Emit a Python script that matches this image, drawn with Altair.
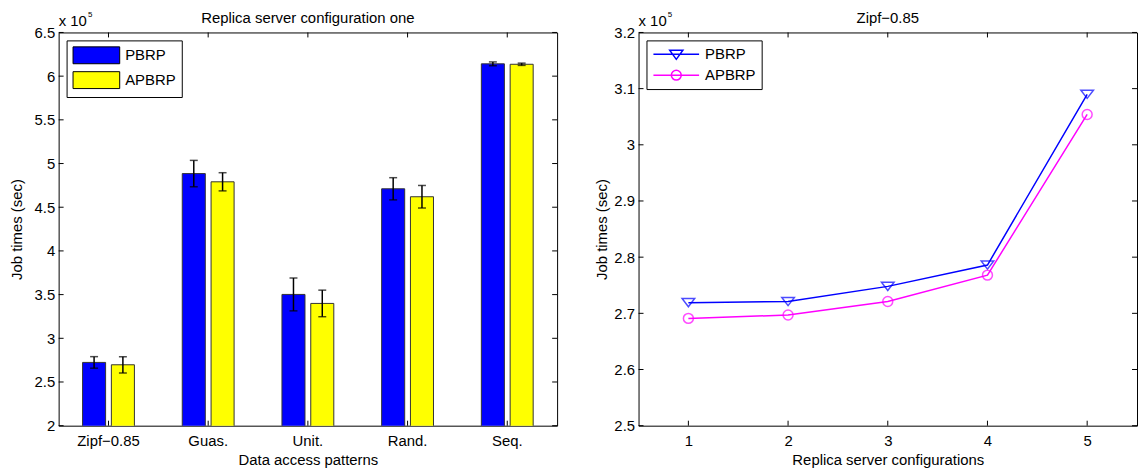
import altair as alt
import pandas as pd

FONT = "Liberation Sans"

# ---------------- data ----------------
patterns = ["Zipf\u22120.85", "Guas.", "Unit.", "Rand.", "Seq."]
series = ["PBRP", "APBRP"]
pbrp_bar = [2.724, 4.885, 3.502, 4.711, 6.141]
apbrp_bar = [2.697, 4.791, 3.399, 4.620, 6.136]
pbrp_err = [0.066, 0.151, 0.188, 0.127, 0.022]
apbrp_err = [0.093, 0.104, 0.152, 0.129, 0.013]

configs = [1, 2, 3, 4, 5]
pbrp_line = [2.719, 2.721, 2.748, 2.786, 3.090]
apbrp_line = [2.691, 2.697, 2.721, 2.768, 3.054]

left_yticks = [2, 2.5, 3, 3.5, 4, 4.5, 5, 5.5, 6, 6.5]
right_yticks = [2.5, 2.6, 2.7, 2.8, 2.9, 3.0, 3.1, 3.2]

left_title = "Replica server configuration one"
right_title = "Zipf\u22120.85"

W, H = 502, 396
TL = 5  # inward tick length


def text_layer(txt, x, y, size=15, align="left"):
    return alt.Chart(pd.DataFrame({"t": [txt]})).mark_text(
        align=align, baseline="alphabetic", font=FONT, fontSize=size, color="black"
    ).encode(text="t:N", x=alt.value(x), y=alt.value(y))


def decorations(title):
    return [
        text_layer(title, W / 2, -10, 15, "center"),
        text_layer("x 10", 0, -7, 15),
        text_layer("5", 29.5, -15.5, 8),
    ]


# ---------------- left chart ----------------
rows = []
for i, p in enumerate(patterns):
    rows.append({"pattern": p, "series": "PBRP", "value": pbrp_bar[i],
                 "lo": pbrp_bar[i] - pbrp_err[i], "hi": pbrp_bar[i] + pbrp_err[i]})
    rows.append({"pattern": p, "series": "APBRP", "value": apbrp_bar[i],
                 "lo": apbrp_bar[i] - apbrp_err[i], "hi": apbrp_bar[i] + apbrp_err[i]})
bars_df = pd.DataFrame(rows)

ly_scale = alt.Scale(domain=[2, 6.5], nice=False, zero=False)
x_band = alt.Scale(paddingInner=0.48, paddingOuter=0.24)
xoff_scale = alt.Scale(paddingInner=0.2, paddingOuter=0)

RECT_PATH = "M-1,-1H4.53V1H-1Z"

left_legend = alt.Legend(
    title=None, orient="top-left", offset=8, padding=6,
    strokeColor="black", fillColor="white", cornerRadius=0,
    symbolType=RECT_PATH, symbolSize=289, symbolStrokeColor="black",
    symbolStrokeWidth=1, symbolOpacity=1, labelOffset=35, rowPadding=3,
    labelFont=FONT, labelFontSize=15, labelColor="black",
)

lx_axis = alt.Axis(title="Data access patterns", labelAngle=0,
                   labelPadding=8, titlePadding=4)
ly_axis = alt.Axis(title="Job times (sec)", values=left_yticks, format="~g",
                   labelPadding=4, titlePadding=10)


def lx(field="pattern"):
    return alt.X(f"{field}:N", sort=patterns, scale=x_band, axis=lx_axis)


def ly(field):
    return alt.Y(f"{field}:Q", scale=ly_scale, axis=ly_axis)


xoff = alt.XOffset("series:N", sort=series, scale=xoff_scale)

base_l = alt.Chart(bars_df)

bars = base_l.mark_bar(stroke="#333333", strokeWidth=1, clip=True).encode(
    x=lx(), xOffset=xoff, y=ly("value"),
    color=alt.Color("series:N", sort=series,
                    scale=alt.Scale(domain=series, range=["#0000ff", "#ffff00"]),
                    legend=left_legend),
)

err_rule = base_l.mark_rule(color="black", strokeWidth=1.5).encode(
    x=lx(), xOffset=xoff, y=ly("lo"), y2="hi:Q")
cap_lo = base_l.mark_tick(color="black", size=8, thickness=1.5).encode(
    x=lx(), xOffset=xoff, y=ly("lo"))
cap_hi = base_l.mark_tick(color="black", size=8, thickness=1.5).encode(
    x=lx(), xOffset=xoff, y=ly("hi"))

ly_df = pd.DataFrame({"value": left_yticks})
lx_df = pd.DataFrame({"pattern": patterns})
ytk_l = alt.Chart(ly_df).mark_rule(color="black", strokeWidth=1).encode(
    y=ly("value"), x=alt.value(0), x2=alt.value(TL))
ytk_r = alt.Chart(ly_df).mark_rule(color="black", strokeWidth=1).encode(
    y=ly("value"), x=alt.value(W - TL), x2=alt.value(W))
xtk_b = alt.Chart(lx_df).mark_rule(color="black", strokeWidth=1).encode(
    x=lx(), y=alt.value(H - TL), y2=alt.value(H))
xtk_t = alt.Chart(lx_df).mark_rule(color="black", strokeWidth=1).encode(
    x=lx(), y=alt.value(0), y2=alt.value(TL))

left = alt.layer(bars, err_rule, cap_lo, cap_hi, ytk_l, ytk_r, xtk_b, xtk_t,
                 *decorations(left_title)).properties(width=W, height=H)

# ---------------- right chart ----------------
lrows = []
for i, c in enumerate(configs):
    lrows.append({"config": c, "series": "PBRP", "value": pbrp_line[i]})
    lrows.append({"config": c, "series": "APBRP", "value": apbrp_line[i]})
line_df = pd.DataFrame(lrows)

rx_scale = alt.Scale(domain=[0.5, 5.5], nice=False, zero=False)
ry_scale = alt.Scale(domain=[2.5, 3.2], nice=False, zero=False)
col_scale = alt.Scale(domain=series, range=["#0000ff", "#ff00ff"])

LEG_TRI = "M-1,0H5.57M1.34,-0.6H3.24L2.29,0.72Z"
LEG_CIR = "M-1,0H5.57M3,0A0.71,0.71,0,1,1,1.58,0A0.71,0.71,0,1,1,3,0Z"
TRI = "M-1,-0.65H1L0,0.65Z"

right_legend = alt.Legend(
    title=None, orient="top-left", offset=8, padding=6,
    strokeColor="black", fillColor="white", cornerRadius=0,
    symbolSize=196, symbolStrokeWidth=1.5, symbolOpacity=1,
    symbolFillColor="transparent", labelOffset=37, rowPadding=4,
    labelFont=FONT, labelFontSize=15, labelColor="black",
)

rx_axis = alt.Axis(title="Replica server configurations", values=configs,
                   format="d", labelPadding=8, titlePadding=4)
ry_axis = alt.Axis(title="Job times (sec)", values=right_yticks, format="~g",
                   labelPadding=4, titlePadding=4)


def rx(field="config"):
    return alt.X(f"{field}:Q", scale=rx_scale, axis=rx_axis)


def ry(field="value"):
    return alt.Y(f"{field}:Q", scale=ry_scale, axis=ry_axis)


base_r = alt.Chart(line_df)

legend_layer = base_r.mark_point(filled=False, opacity=0, size=196, strokeWidth=1.5).encode(
    x=rx(), y=ry(),
    color=alt.Color("series:N", sort=series, scale=col_scale, legend=right_legend),
    shape=alt.Shape("series:N", sort=series,
                    scale=alt.Scale(domain=series, range=[LEG_TRI, LEG_CIR]),
                    legend=right_legend),
)

lines = base_r.mark_line(strokeWidth=1.5).encode(
    x=rx(), y=ry(),
    color=alt.Color("series:N", sort=series, scale=col_scale, legend=None),
    detail="series:N",
)

pts_tri = base_r.transform_filter(alt.datum.series == "PBRP").mark_point(
    shape=TRI, filled=False, size=160, strokeWidth=1.5).encode(
    x=rx(), y=ry(), color=alt.Color("series:N", sort=series, scale=col_scale, legend=None))
pts_cir = base_r.transform_filter(alt.datum.series == "APBRP").mark_point(
    shape="circle", filled=False, size=100, strokeWidth=1.5).encode(
    x=rx(), y=ry(), color=alt.Color("series:N", sort=series, scale=col_scale, legend=None))

ry_df = pd.DataFrame({"value": right_yticks})
rx_df = pd.DataFrame({"config": configs})
rytk_l = alt.Chart(ry_df).mark_rule(color="black", strokeWidth=1).encode(
    y=ry(), x=alt.value(0), x2=alt.value(TL))
rytk_r = alt.Chart(ry_df).mark_rule(color="black", strokeWidth=1).encode(
    y=ry(), x=alt.value(W - TL), x2=alt.value(W))
rxtk_b = alt.Chart(rx_df).mark_rule(color="black", strokeWidth=1).encode(
    x=rx(), y=alt.value(H - TL), y2=alt.value(H))
rxtk_t = alt.Chart(rx_df).mark_rule(color="black", strokeWidth=1).encode(
    x=rx(), y=alt.value(0), y2=alt.value(TL))

right = alt.layer(legend_layer, lines, pts_tri, pts_cir, rytk_l, rytk_r, rxtk_b, rxtk_t,
                  *decorations(right_title)).properties(width=W, height=H)

chart = alt.hconcat(left, right, spacing=36).resolve_scale(
    color="independent", shape="independent"
).resolve_legend(
    color="independent", shape="independent"
).properties(
    padding={"left": 0, "top": 0, "right": 0, "bottom": 0}
).configure_view(stroke="black", strokeWidth=1).configure_axis(
    grid=False, domain=False, ticks=False,
    labelFont=FONT, labelFontSize=15, labelColor="black",
    titleFont=FONT, titleFontSize=15, titleFontWeight="normal", titleColor="black",
).configure_concat(spacing=36)

chart.save("out.html", embed_options={"renderer": "svg", "actions": False})
